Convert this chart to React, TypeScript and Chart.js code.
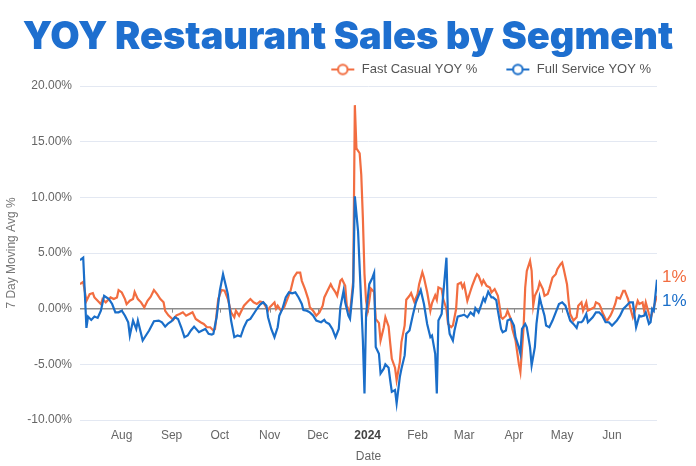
import React, { useEffect, useRef } from 'react';
import { Chart, registerables } from 'chart.js';

Chart.register(...registerables);

// Day offsets are counted from 2023-07-06 (first day of the series)
const START_UTC = Date.UTC(2023, 6, 6);
const LAST_DAY = 359;

const monthStarts: [number, number][] = [
  [2023, 7], [2023, 8], [2023, 9], [2023, 10], [2023, 11],
  [2024, 0], [2024, 1], [2024, 2], [2024, 3], [2024, 4], [2024, 5],
];
const monthLabels = ['Aug', 'Sep', 'Oct', 'Nov', 'Dec', '2024', 'Feb', 'Mar', 'Apr', 'May', 'Jun'];
const yMin = -10;
const yMax = 20;
const yStep = 5;

const chartTitle = 'YOY Restaurant Sales by Segment';
const seriesNames = ['Fast Casual YOY %', 'Full Service YOY %'];
const endLabels = ['1%', '1%'];

const fastCasualDays = [
  0, 2, 4, 6, 8, 9, 11, 13, 14, 16, 19, 21, 23, 24, 26, 28, 29, 31, 33, 34, 36, 38, 40, 42, 44, 46, 48, 50, 52, 53,
  55, 58, 60, 62, 64, 66, 68, 70, 72, 75, 77, 79, 81, 83, 84, 86, 88, 90, 92, 94, 96, 97, 99, 100, 102, 104, 106, 108, 110, 112,
  114, 117, 118, 119, 121, 122, 123, 125, 127, 129, 131, 133, 135, 137, 138, 140, 142, 143, 145, 147, 149, 151, 152, 154, 156, 157, 159, 160, 162, 163,
  165, 166, 168, 170, 171, 172, 174, 175, 176, 177, 178, 179, 180, 181, 183, 184, 186, 187, 189, 190, 192, 193, 194, 196, 197, 199, 200, 202, 203, 205,
  206, 208, 210, 211, 213, 214, 216, 218, 219, 221, 222, 223, 225, 226, 228, 229, 231, 232, 234, 235, 237, 238, 239, 241, 243, 244, 246, 247, 248, 250,
  251, 253, 255, 256, 258, 260, 261, 262, 263, 265, 266, 268, 269, 271, 273, 274, 276, 277, 278, 280, 281, 282, 283, 285, 286, 288, 289, 291, 292, 294,
  296, 297, 299, 300, 301, 303, 304, 305, 307, 309, 310, 312, 313, 315, 316, 318, 320, 321, 323, 324, 325, 327, 328, 330, 331, 333, 334, 336, 338, 339,
  341, 342, 344, 345, 347, 348, 350, 351, 352, 354, 355, 357, 359,
];
const fastCasualValues = [
  2.2, 2.4, 0.7, 1.3, 1.4, 1.01, 0.7, 0.4, 0.86, 0.57, 1.01, 0.86, 1.01, 1.67, 1.46, 0.86, 0.4, 0.71, 0.86, 1.5, 0.86, 0.57, 0.1, 0.71, 1.07, 1.67, 1.31, 0.86, 0.57, -0.2,
  -0.6, -1.0, -0.6, -0.48, -0.33, -0.63, -0.48, -0.33, -0.92, -1.22, -1.37, -1.67, -1.67, -1.96, -1.82, 0.86, 1.67, 1.61, 0.86, -0.33, -0.77, -0.18, -0.63, -0.33, 0.27, 0.57, 0.86, 0.57, 0.42, 0.65,
  0.57, -0.18, 0.12, 0.27, 0.57, 0.0, 0.27, -0.18, 0.12, 0.86, 1.61, 2.8, 3.24, 3.24, 2.5, 1.76, 0.86, 0.12, -0.18, -0.63, -0.33, 0.27, 1.01, 1.61, 2.2, 1.9, 1.46, 1.16, 2.5, 2.65,
  2.05, 0.27, -0.4, 2.5, 18.28, 14.4, 13.96, 12.03, 8.15, 3.1, 0.71, -0.18, 0.71, 1.8, 1.5, -0.92, -1.3, -2.86, -1.67, -0.77, -1.6, -3.1, -4.5, -5.3, -6.43, -4.8, -3.0, -1.5, 0.8, 1.16,
  1.4, 0.6, 1.31, 2.2, 3.27, 2.8, 1.5, -0.18, 0.5, 1.2, 0.8, 1.9, 1.76, 0.86, -0.03, -1.37, -1.67, -1.52, -0.03, 2.2, 2.35, 1.9, 2.2, 0.71, 1.61, 2.05, 2.8, 3.1, 2.95, 2.2,
  2.55, 2.05, 1.9, 1.46, 1.76, 1.16, 0.27, -0.77, -0.9, -0.63, -0.18, -0.92, -1.82, -2.86, -4.94, -5.69, -1.67, 1.9, 3.39, 4.29, 3.39, 0.3, 1.16, 1.76, 2.35, 1.76, 1.16, 1.31, 1.76, 2.8,
  3.1, 3.54, 3.99, 4.14, 3.54, 2.2, 0.71, -0.48, -1.07, -0.77, 0.27, 0.57, -0.18, 0.57, -0.18, -0.03, 0.12, 0.57, 0.42, 0.12, -0.33, -0.92, -1.07, -0.63, -0.33, 0.42, 1.01, 0.9, 1.61, 1.61,
  0.86, 0.27, -0.77, -0.33, 0.71, 0.42, 0.57, -0.18, 0.57, -0.48, -0.92, 0.12, 1.16,
];

const fullServiceDays = [
  0, 2, 4, 5, 7, 9, 11, 13, 15, 18, 20, 22, 24, 26, 28, 30, 31, 33, 35, 36, 38, 39, 41, 43, 46, 49, 51, 53, 55, 57,
  59, 61, 63, 65, 67, 69, 71, 74, 76, 78, 80, 82, 83, 85, 87, 89, 92, 94, 96, 98, 100, 102, 104, 106, 108, 110, 112, 114, 116, 117,
  119, 121, 123, 124, 126, 128, 130, 132, 134, 136, 138, 139, 141, 143, 145, 147, 150, 152, 153, 155, 157, 159, 161, 162, 164, 165, 167, 168, 170, 171,
  173, 174, 176, 177, 178, 180, 182, 183, 184, 186, 187, 189, 190, 192, 193, 194, 196, 197, 199, 200, 202, 203, 205, 207, 209, 212, 214, 216, 218, 219,
  221, 222, 223, 225, 226, 228, 229, 230, 232, 233, 235, 237, 239, 241, 243, 245, 246, 248, 249, 251, 252, 254, 256, 257, 259, 260, 262, 263, 265, 266,
  268, 270, 271, 273, 274, 275, 277, 278, 280, 281, 283, 284, 286, 287, 289, 290, 292, 294, 296, 298, 300, 302, 304, 305, 307, 309, 310, 312, 313, 315,
  316, 319, 321, 323, 325, 327, 329, 331, 332, 334, 336, 338, 340, 342, 344, 346, 348, 349, 351, 352, 354, 355, 356, 357, 359,
];
const fullServiceValues = [
  4.35, 4.58, -1.73, -0.71, -1.01, -0.71, -0.83, -0.18, 1.16, 0.86, 0.42, -0.33, -0.33, -0.18, -0.63, -1.22, -2.41, -1.07, -1.82, -1.07, -2.26, -2.86, -2.41, -1.96, -1.13, -1.07, -1.22, -1.61, -1.31, -1.13,
  -0.77, -0.92, -1.67, -2.56, -2.41, -1.96, -1.61, -2.11, -1.96, -1.82, -2.26, -2.32, -2.26, -0.77, 1.61, 3.1, 1.31, -1.07, -2.56, -2.41, -2.5, -1.67, -1.07, -0.92, -0.48, -0.03, 0.36, 0.57, 0.27, -0.77,
  -1.82, -2.56, -1.67, -0.63, 0.0, 1.01, 1.46, 1.37, 1.46, 1.01, 0.42, -0.12, -0.18, -0.33, -0.6, -1.07, -1.22, -1.0, -1.22, -1.37, -1.82, -2.56, -1.82, 0.12, 1.61, 0.57, -0.63, -0.92, 2.0, 10.09,
  6.97, 3.69, -2.86, -7.62, -0.48, 2.2, 2.8, 3.2, -3.45, -4.05, -5.83, -5.39, -5.0, -5.3, -6.43, -7.47, -7.3, -8.51, -6.13, -5.39, -4.2, -2.26, -1.96, -0.63, 0.57, 1.67, 0.42, -1.37, -2.56, -2.41,
  -4.05, -7.62, -1.07, -0.48, 1.31, 4.58, -1.07, -2.26, -2.86, -1.96, -0.71, -0.63, -0.54, -0.77, -0.33, -0.6, 0.06, -0.33, 0.06, 0.95, 0.65, 1.52, 1.01, 1.01, 0.77, -0.18, -1.82, -2.11, -1.96, -1.07,
  -0.92, -1.52, -2.56, -3.45, -4.05, -1.82, -1.37, -1.67, -3.45, -5.09, -3.45, -1.37, 1.01, 0.42, -0.63, -1.52, -1.67, -1.07, -0.33, 0.42, 0.57, 0.27, -0.63, -1.07, -1.37, -1.73, -1.22, -1.22, -1.07, -0.48,
  -1.22, -0.77, -0.33, -0.33, -0.63, -1.22, -1.22, -1.52, -1.37, -1.07, -0.63, -0.03, 0.27, 0.57, 0.57, -1.67, -0.63, -0.71, -0.63, -0.33, -1.37, -1.22, -0.03, -0.2, 2.6,
];

const ORANGE = '#F26D40';
const BLUE = '#1A6EC9';
const FONT = '"Liberation Sans", Arial, Helvetica, sans-serif';

const dayOf = (y: number, m: number) => Math.round((Date.UTC(y, m, 1) - START_UTC) / 86400000);
const monthTickDays = monthStarts.map(([y, m]) => dayOf(y, m));

function makeMarker(color: string): HTMLCanvasElement {
  const c = document.createElement('canvas');
  c.width = 47;
  c.height = 14;
  const g = c.getContext('2d')!;
  g.strokeStyle = color;
  g.lineWidth = 2;
  g.beginPath();
  g.moveTo(23, 7);
  g.lineTo(46, 7);
  g.stroke();
  g.beginPath();
  g.arc(34.5, 7, 4.8, 0, Math.PI * 2);
  g.fillStyle = '#ffffff';
  g.fill();
  g.stroke();
  return c;
}

const endLabelPlugin = {
  id: 'endLabels',
  afterDatasetsDraw(chart: any) {
    const { ctx, chartArea, scales } = chart;
    const y = scales.y;
    ctx.save();
    ctx.font = `17px ${FONT}`;
    ctx.textBaseline = 'middle';
    ctx.textAlign = 'left';
    ctx.fillStyle = ORANGE;
    ctx.fillText(endLabels[0], chartArea.right + 5, y.getPixelForValue(2.8));
    ctx.fillStyle = BLUE;
    ctx.fillText(endLabels[1], chartArea.right + 5, y.getPixelForValue(0.65));
    ctx.restore();
  },
};

const zeroTickPlugin = {
  id: 'zeroTicks',
  beforeDatasetsDraw(chart: any) {
    const { ctx, scales } = chart;
    const y0 = scales.y.getPixelForValue(0);
    ctx.save();
    ctx.strokeStyle = '#8c8c8c';
    ctx.lineWidth = 1;
    monthTickDays.forEach((d) => {
      const x = Math.round(scales.x.getPixelForValue(d)) + 0.5;
      ctx.beginPath();
      ctx.moveTo(x, y0);
      ctx.lineTo(x, y0 + 4);
      ctx.stroke();
    });
    ctx.restore();
  },
};

export default function App() {
  const ref = useRef<HTMLCanvasElement | null>(null);

  useEffect(() => {
    if (!ref.current) return;
    const colors = [ORANGE, BLUE];
    const markers = [makeMarker(ORANGE), makeMarker(BLUE)];
    const chart = new Chart(ref.current, {
      type: 'line',
      data: {
        datasets: [
          {
            label: seriesNames[0],
            data: fastCasualDays.map((d, i) => ({ x: d, y: fastCasualValues[i] })),
            borderColor: colors[0],
            backgroundColor: colors[0],
            borderWidth: 2.2,
            pointRadius: 0,
            tension: 0,
            order: 1,
          },
          {
            label: seriesNames[1],
            data: fullServiceDays.map((d, i) => ({ x: d, y: fullServiceValues[i] })),
            borderColor: colors[1],
            backgroundColor: colors[1],
            borderWidth: 2.2,
            pointRadius: 0,
            tension: 0,
            order: 0,
          },
        ],
      },
      options: {
        animation: false,
        responsive: true,
        maintainAspectRatio: false,
        layout: { padding: { left: 0, right: 39, top: 57, bottom: 0 } },
        plugins: {
          title: { display: false },
          legend: {
            display: true,
            position: 'top',
            align: 'end',
            labels: {
              usePointStyle: true,
              pointStyleWidth: 47,
              padding: 6,
              color: '#555',
              font: { family: FONT, size: 13 },
              sort: (a: any, b: any) => a.datasetIndex - b.datasetIndex,
              generateLabels: (c: any) => {
                const items = (Chart.defaults.plugins.legend.labels as any).generateLabels(c);
                items.forEach((it: any) => {
                  it.pointStyle = markers[it.datasetIndex];
                });
                return items;
              },
            },
          },
          tooltip: { enabled: false },
        },
        scales: {
          x: {
            type: 'linear',
            min: 0,
            max: LAST_DAY,
            grid: { display: false },
            border: { display: false },
            afterBuildTicks: (axis: any) => {
              axis.ticks = monthTickDays.map((v) => ({ value: v }));
            },
            afterFit: (scale: any) => {
              scale.height = 46;
            },
            ticks: {
              autoSkip: false,
              maxRotation: 0,
              padding: 0,
              font: (ctx: any) =>
                ctx.tick && ctx.tick.value === monthTickDays[5]
                  ? { family: FONT, size: 12, weight: 'bold' }
                  : { family: FONT, size: 12 },
              color: (ctx: any) => (ctx.tick && ctx.tick.value === monthTickDays[5] ? '#444' : '#666'),
              callback: (v: any) => {
                const i = monthTickDays.indexOf(Number(v));
                return i >= 0 ? monthLabels[i] : '';
              },
            },
            title: {
              display: true,
              text: 'Date',
              color: '#666',
              font: { family: FONT, size: 12 },
              padding: { top: 4, bottom: 2 },
            },
          },
          y: {
            min: yMin,
            max: yMax,
            afterFit: (scale: any) => {
              scale.width = 80;
            },
            grid: {
              drawTicks: false,
              color: (ctx: any) => (ctx.tick && ctx.tick.value === 0 ? '#8c8c8c' : '#e3e8f2'),
              lineWidth: (ctx: any) => (ctx.tick && ctx.tick.value === 0 ? 1.5 : 1),
            },
            border: { display: false },
            ticks: {
              stepSize: yStep,
              padding: 8,
              color: '#666',
              font: { family: FONT, size: 12 },
              callback: (v: any) => `${Number(v).toFixed(2)}%`,
            },
            title: {
              display: true,
              text: '7 Day Moving Avg %',
              color: '#777',
              font: { family: FONT, size: 12 },
              padding: { top: 4, bottom: 4 },
            },
          },
        },
      } as any,
      plugins: [endLabelPlugin, zeroTickPlugin],
    });
    return () => chart.destroy();
  }, []);

  return (
    <div style={{ position: 'fixed', left: 0, top: 0, width: 696, height: 466, background: '#fff' }}>
      <canvas ref={ref} />
      <div
        style={{
          position: 'absolute',
          left: 0,
          top: 16,
          width: 696,
          textAlign: 'center',
          fontFamily: 'Inter, "Open Sans", sans-serif',
          fontWeight: 900,
          fontSize: 38,
          lineHeight: '38px',
          color: '#1E6FCF',
          whiteSpace: 'nowrap',
          pointerEvents: 'none',
        }}
      >
        {chartTitle}
      </div>
    </div>
  );
}
